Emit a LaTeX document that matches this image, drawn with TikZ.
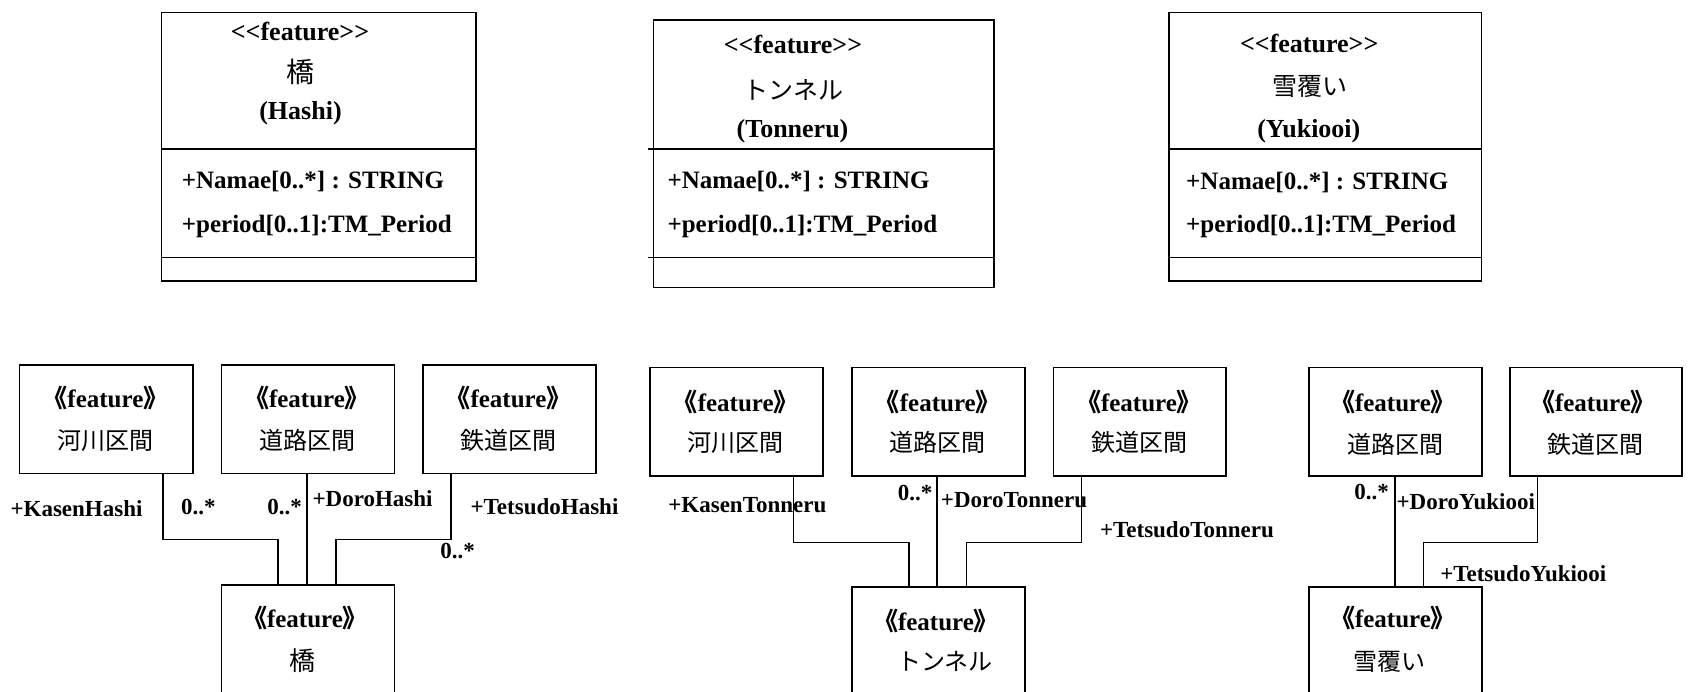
\documentclass[tikz,border=0pt]{standalone}
\usepackage{fontspec}
\setmainfont{Liberation Serif}
\newfontfamily\cjk{Noto Sans CJK JP}
\newfontfamily\cjkh[RawFeature=+halt]{Noto Sans CJK JP}
\newcommand\myTitle{\fontsize{26}{30}\selectfont\bfseries}
\newcommand\myAttr{\fontsize{25}{30}\selectfont\bfseries}
\newcommand\myStereo{\fontsize{25}{30}\selectfont\bfseries}
\newcommand\myLab{\fontsize{23}{28}\selectfont\bfseries}
\newcommand\myJp{\fontsize{24}{28}\selectfont\cjk}
\newcommand\myJpTop{\fontsize{25}{28}\selectfont\cjk}
\newcommand\gst{{\cjkh 《}feature{\cjkh 》}}
\tikzset{
  box/.style={draw=black, line width=1.6pt, rectangle, inner sep=0pt, anchor=north west},
  conn/.style={draw=black, line width=1.5pt},
  divl/.style={draw=black, line width=1.6pt},
  ttl/.style={inner sep=0pt, font=\myTitle},
  attr/.style={inner sep=0pt, anchor=west, font=\myAttr},
  ster/.style={inner sep=0pt, font=\myStereo},
  lab/.style={inner sep=0pt, font=\myLab},
  jp/.style={inner sep=0pt, font=\myJp},
  jptop/.style={inner sep=0pt, font=\myJpTop}
}
\begin{document}
\begin{tikzpicture}[x=1pt,y=-1pt]
\useasboundingbox (0,0) rectangle (1690,692);
\clip (0,0) rectangle (1690,692);
\fill[white] (0,0) rectangle (1690,692);

% ---------- top class boxes ----------
\node[box, minimum width=314.3pt, minimum height=268.3pt] (c1) at (160.7,11.7) {};
\draw[divl] (160.7,149) -- (475,149);
\draw[divl] (160.7,257.7) -- (475,257.7);
\node[ttl] (c1s) at (300,31.7) {<{}<feature>{}>};
\node[jptop, font=\fontsize{28}{30}\selectfont\cjk] (c1j) at (300,72) {橋};
\node[ttl] (c1r) at (300.5,113) {(Hashi)};
\node[attr] (c1a) at (181.7,181.7) {+Namae[0..*] : STRING};
\node[attr] (c1b) at (181.7,226.7) {+period[0..1]:TM\_Period};

\node[box, minimum width=340.3pt, minimum height=267.4pt] (c2) at (652.7,19.3) {};
\draw[divl] (648,149.3) -- (993,149.3);
\draw[divl] (648,257.7) -- (993,257.7);
\node[ttl] (c2s) at (793,45) {<{}<feature>{}>};
\node[jptop] (c2j) at (793.3,90) {トンネル};
\node[ttl] (c2r) at (792.5,130.8) {(Tonneru)};
\node[attr] (c2a) at (667.3,181.7) {+Namae[0..*] : STRING};
\node[attr] (c2b) at (667.3,226.7) {+period[0..1]:TM\_Period};

\node[box, minimum width=312.4pt, minimum height=268.3pt] (c3) at (1168.3,11.7) {};
\draw[divl] (1168.3,149.3) -- (1480.7,149.3);
\draw[divl] (1168.3,257.7) -- (1480.7,257.7);
\node[ttl] (c3s) at (1309.2,44) {<{}<feature>{}>};
\node[jptop] (c3j) at (1310,86.7) {雪覆い};
\node[ttl] (c3r) at (1308.8,131.7) {(Yukiooi)};
\node[attr] (c3a) at (1186,182.5) {+Namae[0..*] : STRING};
\node[attr] (c3b) at (1186,226.7) {+period[0..1]:TM\_Period};

% ---------- bottom left group ----------
\node[box, minimum width=173.3pt, minimum height=108.4pt] (kA) at (18.7,364.3) {};
\node[box, minimum width=172.9pt, minimum height=108.4pt] (kB) at (220.6,364.3) {};
\node[box, minimum width=172.9pt, minimum height=108.4pt] (kC) at (422.1,364.3) {};
\node[box, minimum width=172.9pt, minimum height=200pt] (kD) at (220.6,584) {};
\node[ster] (kAs) at (105.4,398.3) {\gst};
\node[jp] (kAj) at (105.4,440.8) {河川区間};
\node[ster] (kBs) at (307,398.3) {\gst};
\node[jp] (kBj) at (307,440.8) {道路区間};
\node[ster] (kCs) at (508.5,398.3) {\gst};
\node[jp] (kCj) at (508.5,440.8) {鉄道区間};
\node[ster] (kDs) at (305,617.5) {\gst};
\node[jp, font=\fontsize{26}{28}\selectfont\cjk] (kDj) at (302,660.8) {橋};
\draw[conn] ([xshift=144.3pt]kA.south west) -- ++(0,65) -| ([xshift=57.6pt]kD.north west);
\draw[conn] ([xshift=86.2pt]kB.south west) -- ([xshift=86.2pt]kD.north west);
\draw[conn] ([xshift=29pt]kC.south west) -- ++(0,65) -| ([xshift=115.2pt]kD.north west);
\node[lab] (kl1) at (76.5,508.3) {+KasenHashi};
\node[lab] (kl2) at (198.3,507.5) {0..*};
\node[lab] (kl3) at (284.6,507.5) {0..*};
\node[lab] (kl4) at (372.6,498.3) {+DoroHashi};
\node[lab] (kl5) at (544.5,506.7) {+TetsudoHashi};
\node[lab] (kl6) at (457.5,551.2) {0..*};

% ---------- bottom middle group ----------
\node[box, minimum width=172.9pt, minimum height=108.3pt] (tA) at (649.2,366.7) {};
\node[box, minimum width=172.9pt, minimum height=108.3pt] (tB) at (851.3,366.7) {};
\node[box, minimum width=172.9pt, minimum height=108.3pt] (tC) at (1052.5,366.7) {};
\node[box, minimum width=172.9pt, minimum height=200pt] (tD) at (851.3,586) {};
\node[ster] (tAs) at (735.7,401.7) {\gst};
\node[jp] (tAj) at (735.7,442.5) {河川区間};
\node[ster] (tBs) at (937.8,401.7) {\gst};
\node[jp] (tBj) at (937.8,442.5) {道路区間};
\node[ster] (tCs) at (1139,401.7) {\gst};
\node[jp] (tCj) at (1139,442.5) {鉄道区間};
\node[ster] (tDs) at (936,620.8) {\gst};
\node[jp] (tDj) at (945,661.7) {トンネル};
\draw[conn] ([xshift=144.1pt]tA.south west) -- ++(0,65.7) -| ([xshift=57.5pt]tD.north west);
\draw[conn] ([xshift=85.8pt]tB.south west) -- ([xshift=85.8pt]tD.north west);
\draw[conn] ([xshift=29.2pt]tC.south west) -- ++(0,65.7) -| ([xshift=115pt]tD.north west);
\node[lab] (tl1) at (915,493.3) {0..*};
\node[lab] (tl2) at (747.3,505.5) {+KasenTonneru};
\node[lab] (tl3) at (1014,500.3) {+DoroTonneru};
\node[lab] (tl4) at (1186.9,530) {+TetsudoTonneru};

% ---------- bottom right group ----------
\node[box, minimum width=172.7pt, minimum height=108.3pt] (yB) at (1308.3,366.7) {};
\node[box, minimum width=171.7pt, minimum height=108.3pt] (yC) at (1509.3,366.7) {};
\node[box, minimum width=172.7pt, minimum height=200pt] (yD) at (1308.3,586) {};
\node[ster] (yBs) at (1393,402.5) {\gst};
\node[jp] (yBj) at (1395,444) {道路区間};
\node[ster] (yCs) at (1593,402.5) {\gst};
\node[jp] (yCj) at (1595,444) {鉄道区間};
\node[ster] (yDs) at (1393,618.3) {\gst};
\node[jp] (yDj) at (1389,661.7) {雪覆い};
\draw[conn] ([xshift=86.7pt]yB.south west) -- ([xshift=86.7pt]yD.north west);
\draw[conn] ([xshift=28.4pt]yC.south west) -- ++(0,65.7) -| ([xshift=115pt]yD.north west);
\node[lab] (yl1) at (1371.7,491.7) {0..*};
\node[lab] (yl2) at (1465.8,501.7) {+DoroYukiooi};
\node[lab] (yl3) at (1523.3,573.3) {+TetsudoYukiooi};
\end{tikzpicture}
\end{document}
